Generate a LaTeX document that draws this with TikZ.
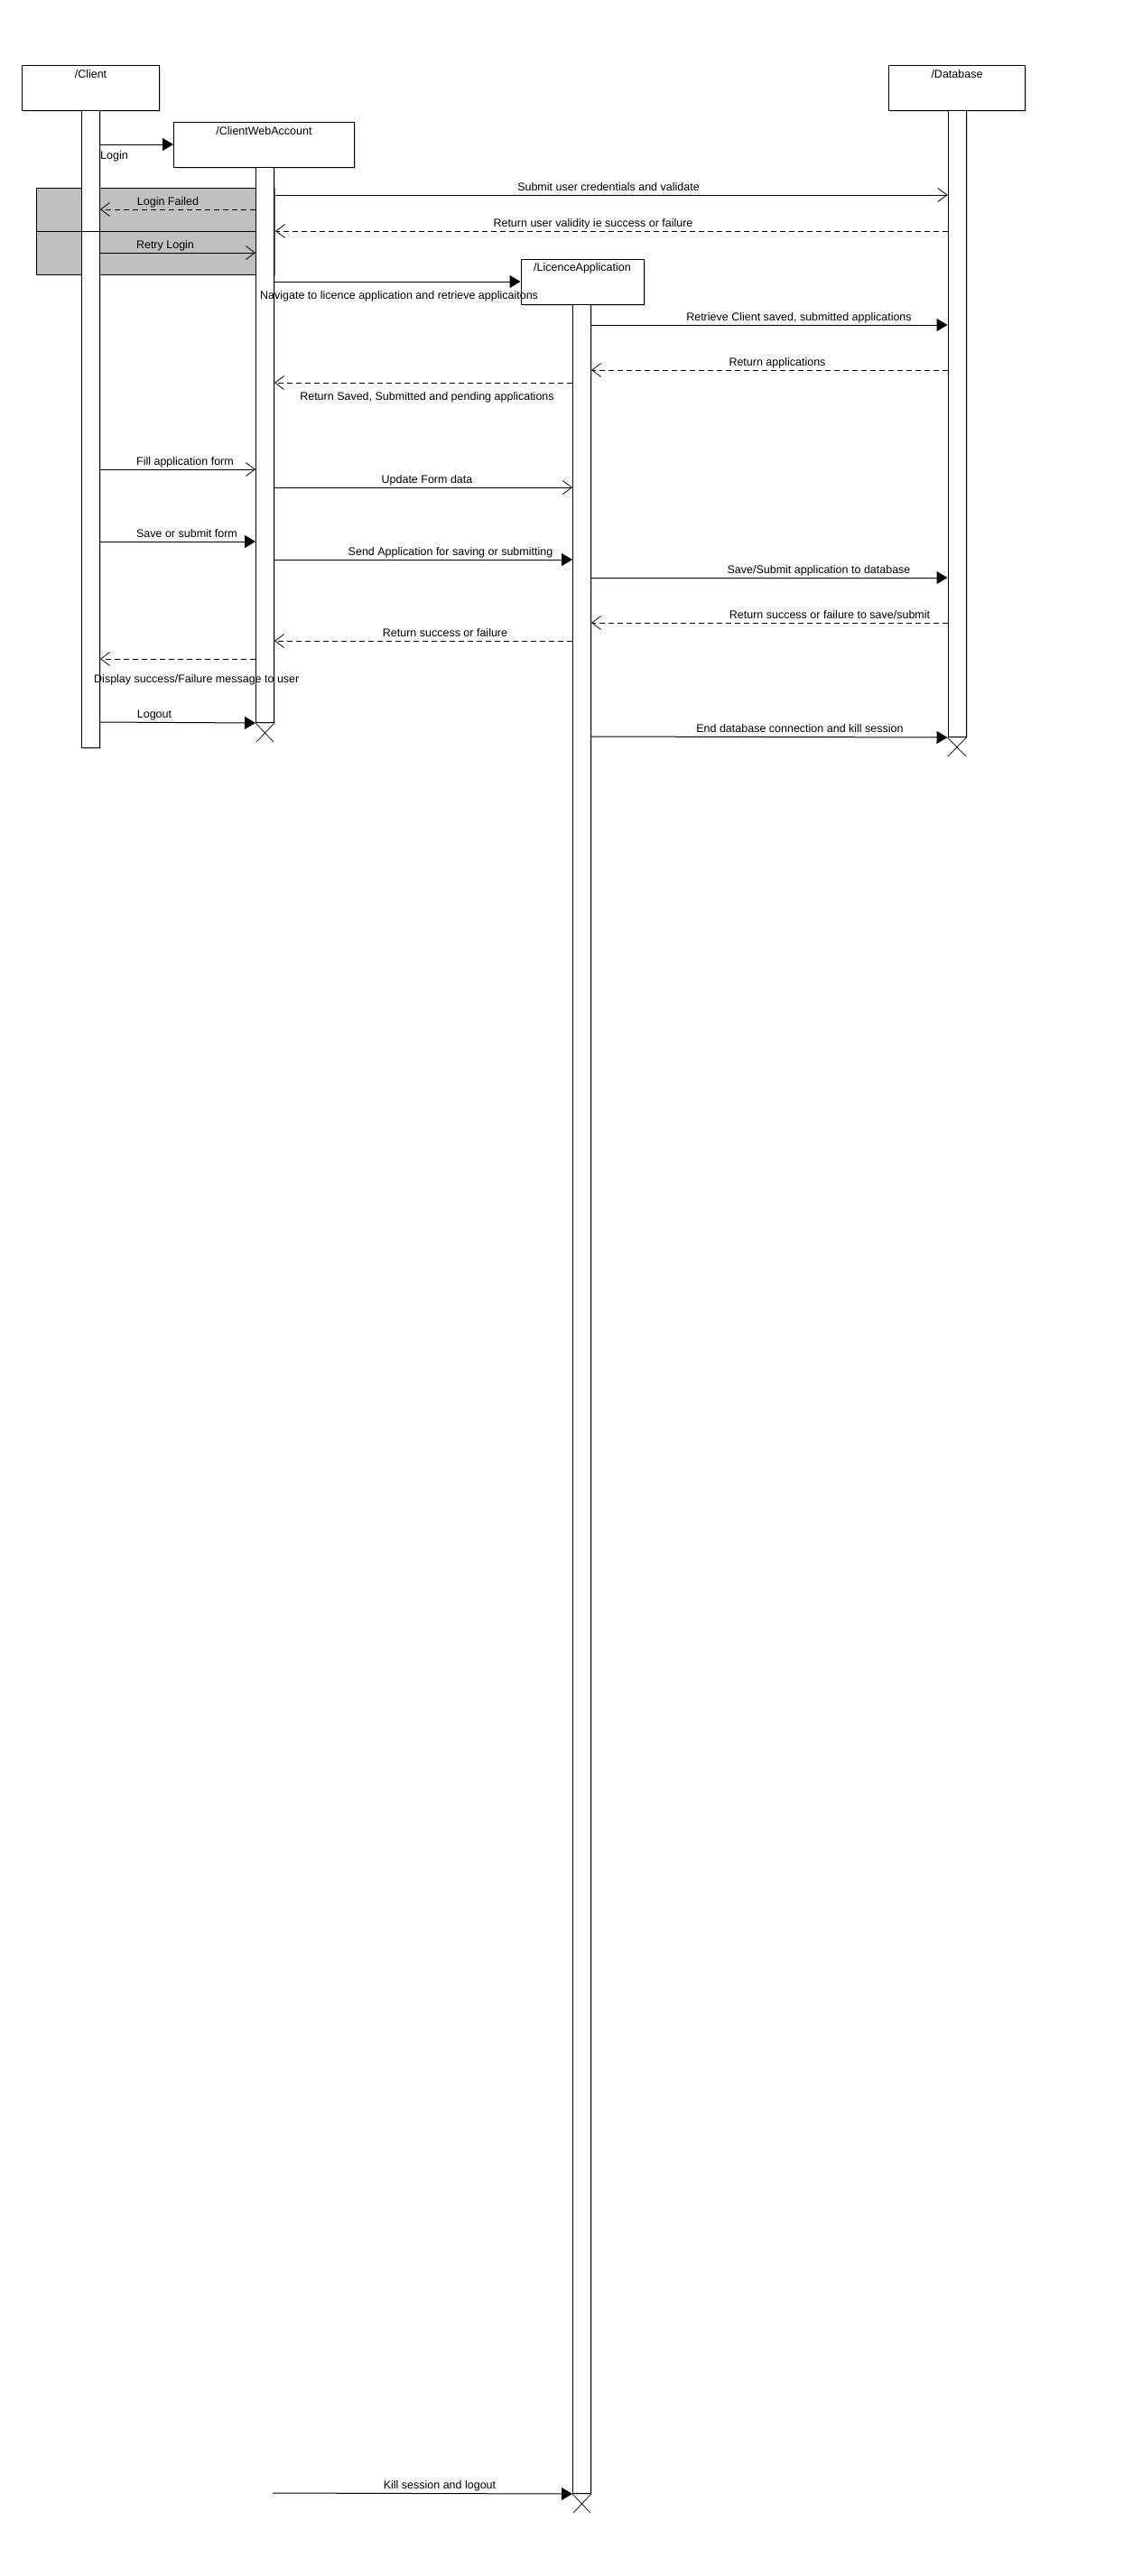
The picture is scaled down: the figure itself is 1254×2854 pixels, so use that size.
\documentclass[tikz,border=0pt]{standalone}
\usepackage{fontspec}
\setmainfont{Liberation Sans}
\usetikzlibrary{arrows.meta,shadows}
\definecolor{fraggray}{RGB}{192,192,192}
\begin{document}
\begin{tikzpicture}[x=1pt,y=-1pt,
  obj/.style={draw, fill=white, line width=1pt, inner sep=0pt, anchor=north west,
    drop shadow={shadow xshift=1.5pt, shadow yshift=-1.5pt, fill=black!30, opacity=0.6}},
  actbar/.style={obj, minimum width=20pt},
  fragbox/.style={draw, fill=fraggray, line width=1pt, inner sep=0pt, anchor=north west},
  lbl/.style={font=\fontsize{12.5}{15}\selectfont, inner sep=0pt, anchor=base},
  lbll/.style={lbl, anchor=base west},
  callmsg/.style={line width=1pt, -{Triangle[length=12pt,width=14pt]}},
  asyncmsg/.style={line width=1pt, -{Straight Barb[length=10pt,width=15pt,line width=0.8pt]}},
  retmsg/.style={asyncmsg, dash pattern=on 6pt off 4pt},
  xmark/.style={line width=0.7pt}
]
\useasboundingbox (0,0) rectangle (1254,2854);
\fill[white] (0,0) rectangle (1254,2854);

% combined fragment
\node[fragbox, minimum width=264pt, minimum height=96pt] (frag) at (40,208) {};

% lifeline heads
\node[obj, minimum width=152pt, minimum height=50pt] (cl) at (24,72) {};
\node[obj, minimum width=200pt, minimum height=50pt] (cwa) at (192,135) {};
\node[obj, minimum width=136pt, minimum height=50pt] (la) at (576.5,287) {};
\node[obj, minimum width=151pt, minimum height=50pt] (db) at (984,72) {};

% activation bars
\node[actbar, minimum height=706pt] (clbar) at (90,122) {};
\node[actbar, minimum height=615pt] (cwabar) at (283,185) {};
\node[actbar, minimum height=2425pt] (labar) at (634,337) {};
\node[actbar, minimum height=694pt] (dbbar) at (1049.5,122) {};

% fragment divider
\draw[line width=1pt] (frag.west |- 0,256) -- (cwabar.west |- 0,256);

% head labels
\node[lbl] at (cl.north |- 0,86) {/Client};
\node[lbl] at (cwa.north |- 0,149) {/ClientWebAccount};
\node[lbl] at (la.north |- 0,300.5) {/LicenceApplication};
\node[lbl] at (db.north |- 0,86) {/Database};

% messages
\draw[callmsg] (clbar.east |- 0,160) -- (cwa.west |- 0,160);
\node[lbll] at (111,176) {Login};

\draw[retmsg] (cwabar.west |- 0,232) -- (clbar.east |- 0,232);
\node[lbl] at (186,227) {Login Failed};

\draw[asyncmsg] (clbar.east |- 0,280) -- (cwabar.west |- 0,280);
\node[lbl] at (183,275) {Retry Login};

\draw[asyncmsg] (frag.east |- 0,216) -- (dbbar.west |- 0,216);
\node[lbl] at (674,211) {Submit user credentials and validate};

\draw[retmsg] (dbbar.west |- 0,256) -- (frag.east |- 0,256);
\node[lbl] at (657,251) {Return user validity ie success or failure};

\draw[callmsg] (cwabar.east |- 0,312) -- (la.west |- 0,312);

\draw[callmsg] (labar.east |- 0,360) -- (dbbar.west |- 0,360);
\node[lbl] at (885,355) {Retrieve Client saved, submitted applications};

\draw[retmsg] (dbbar.west |- 0,410) -- (labar.east |- 0,410);
\node[lbl] at (861,405) {Return applications};

\draw[retmsg] (labar.west |- 0,424) -- (cwabar.east |- 0,424);
\node[lbl] at (473,443) {Return Saved, Submitted and pending applications};

\draw[asyncmsg] (clbar.east |- 0,520) -- (cwabar.west |- 0,520);
\node[lbl] at (205,515) {Fill application form};

\draw[asyncmsg] (cwabar.east |- 0,540) -- (labar.west |- 0,540);
\node[lbl] at (473,535) {Update Form data};

\draw[callmsg] (clbar.east |- 0,600) -- (cwabar.west |- 0,600);
\node[lbl] at (207,595) {Save or submit form};

\draw[callmsg] (cwabar.east |- 0,620) -- (labar.west |- 0,620);
\node[lbl] at (499,615) {Send Application for saving or submitting};

\draw[callmsg] (labar.east |- 0,640) -- (dbbar.west |- 0,640);
\node[lbl] at (907,635) {Save/Submit application to database};

\draw[retmsg] (dbbar.west |- 0,690) -- (labar.east |- 0,690);
\node[lbl] at (919,685) {Return success or failure to save/submit};

\draw[retmsg] (labar.west |- 0,710) -- (cwabar.east |- 0,710);
\node[lbl] at (493,705) {Return success or failure};

\draw[retmsg] (cwabar.west |- 0,730) -- (clbar.east |- 0,730);
\node[lbll] at (104,756) {Display success/Failure message to user};

\draw[callmsg] (clbar.east |- 0,800) -- (cwabar.south west);
\node[lbl] at (171,795) {Logout};

\draw[callmsg] (labar.east |- 0,816) -- (dbbar.south west);
\node[lbl] at (886,811) {End database connection and kill session};

\coordinate (ks) at (302,2762);
\draw[callmsg] (ks) -- (labar.south west);
\node[lbl] at (487,2757) {Kill session and logout};

% label under navigate (drawn over LA box edge)
\node[lbll] at (288,331.5) {Navigate to licence application and retrieve applicaitons};

% destruction marks
\draw[xmark] (cwabar.south west) -- ++(20,21) (cwabar.south east) -- ++(-20,21);
\draw[xmark] (dbbar.south west) -- ++(20.5,21) (dbbar.south east) -- ++(-20.5,21);
\draw[xmark] (labar.south west) -- ++(20,21) (labar.south east) -- ++(-20,21);
\end{tikzpicture}
\end{document}
